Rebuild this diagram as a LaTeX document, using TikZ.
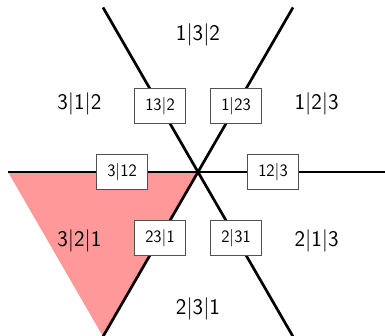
\documentclass[tikz,border=0pt]{standalone}
\usetikzlibrary{calc}
\definecolor{regionpink}{RGB}{255,153,153}
\definecolor{boxframe}{RGB}{80,80,80}
\begin{document}
\begin{tikzpicture}[x=1bp,y=1bp,
  wall/.style={line width=2.7bp,black},
  facebox/.style={draw=boxframe,line width=0.9bp,fill=white,minimum width=51bp,minimum height=35bp,inner sep=0pt,font=\sffamily\fontsize{17.5}{20}\selectfont},
  chamber/.style={inner sep=0pt,font=\sffamily\fontsize{22.5}{26}\selectfont}]
  \useasboundingbox (0,0) rectangle (385,336);
  \coordinate (o) at (198,164);
  % ends of the three lines
  \foreach \a/\n in {0/e,60/ne,120/nw,180/w,240/sw,300/se}
    \coordinate (\n) at ($(o)+(\a:190)$);
  % shaded chamber
  \fill[regionpink] (o) -- (w) -- (sw) -- cycle;
  % hyperplanes
  \draw[wall] (w) -- (e);
  \draw[wall] (nw) -- (se);
  \draw[wall] (ne) -- (sw);
  % face labels on the lines
  \node[facebox] (f1) at ($(o)+(60:76)$) {1|23};
  \node[facebox] (f2) at ($(o)+(120:76)$) {13|2};
  \node[facebox] (f3) at ($(o)+(180:76)$) {3|12};
  \node[facebox] (f4) at ($(o)+(240:76)$) {23|1};
  \node[facebox] (f5) at ($(o)+(300:76)$) {2|31};
  \node[facebox] (f6) at ($(o)+(0:75)$) {12|3};
  % chamber labels
  \node[chamber] (c1) at ($(o)+(30:137)$) {1|2|3};
  \node[chamber] (c2) at ($(o)+(90:137)$) {1|3|2};
  \node[chamber] (c3) at ($(o)+(150:137)$) {3|1|2};
  \node[chamber] (c4) at ($(o)+(210:137)$) {3|2|1};
  \node[chamber] (c5) at ($(o)+(270:137)$) {2|3|1};
  \node[chamber] (c6) at ($(o)+(330:137)$) {2|1|3};
\end{tikzpicture}
\end{document}
